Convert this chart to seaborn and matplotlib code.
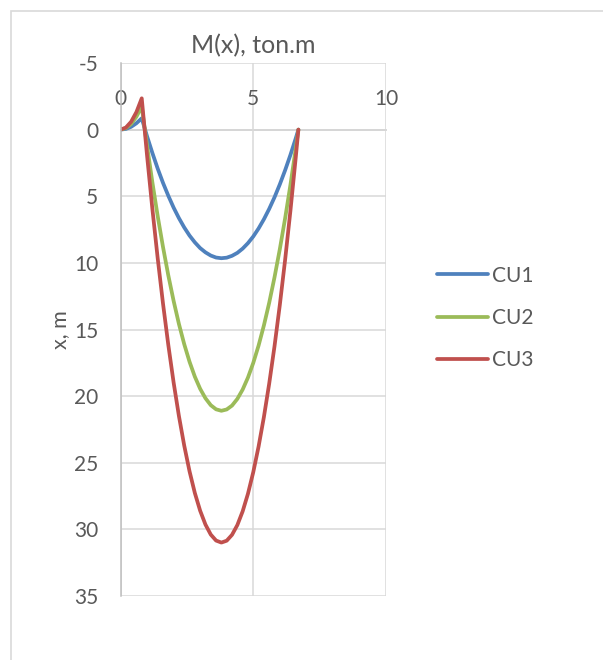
import numpy as np
import pandas as pd
import matplotlib
matplotlib.use("Agg")
import matplotlib.pyplot as plt
from matplotlib.patches import Rectangle
import seaborn as sns

# Position along the beam, m
x_pos = [0.0, 0.2, 0.4, 0.6, 0.8, 1.0, 1.2, 1.4, 1.6, 1.8, 2.0, 2.2, 2.4, 2.6,
         2.8, 3.0, 3.2, 3.4, 3.6, 3.8, 4.0, 4.2, 4.4, 4.6, 4.8, 5.0, 5.2, 5.4,
         5.6, 5.8, 6.0, 6.2, 6.4, 6.6, 6.7]

# Bending moment for each load case, ton.m
m_cu1 = [0.0, -0.05, -0.21, -0.48, -0.85, 0.50, 1.75, 2.92, 3.99, 4.96, 5.85,
         6.64, 7.34, 7.95, 8.46, 8.89, 9.21, 9.45, 9.60, 9.65, 9.61, 9.47, 9.25,
         8.93, 8.52, 8.02, 7.42, 6.73, 5.95, 5.08, 4.11, 3.05, 1.90, 0.66, 0.0]
m_cu2 = [0.0, -0.11, -0.43, -0.97, -1.72, 1.21, 3.95, 6.48, 8.80, 10.93, 12.85,
         14.58, 16.10, 17.42, 18.54, 19.45, 20.16, 20.68, 20.99, 21.10, 21.00,
         20.71, 20.21, 19.51, 18.61, 17.51, 16.21, 14.70, 13.00, 11.09, 8.98,
         6.66, 4.15, 1.43, 0.0]
m_cu3 = [0.0, -0.15, -0.59, -1.32, -2.35, 1.94, 5.94, 9.64, 13.04, 16.15, 18.97,
         21.49, 23.71, 25.64, 27.27, 28.60, 29.64, 30.39, 30.84, 30.99, 30.85,
         30.41, 29.68, 28.65, 27.33, 25.71, 23.79, 21.58, 19.07, 16.27, 13.17,
         9.78, 6.09, 2.10, 0.0]

series_names = ["CU1", "CU2", "CU3"]
series_colors = ["#4F81BD", "#9BBB59", "#C0504D"]

x_ticks = [0, 5, 10]
y_ticks = [-5, 0, 5, 10, 15, 20, 25, 30, 35]

frames = []
for name, vals in zip(series_names, [m_cu1, m_cu2, m_cu3]):
    frames.append(pd.DataFrame({"x": x_pos, "M": vals, "case": name}))
df = pd.concat(frames, ignore_index=True)

sns.set_style("white")
plt.rcParams["font.family"] = ["Lato", "DejaVu Sans"]
text_color = "#595959"
grid_color = "#D9D9D9"

fig = plt.figure(figsize=(6.03, 6.60), dpi=100)
ax = fig.add_axes([120.5 / 603, 1 - 596 / 660, (386 - 120.5) / 603, (596 - 63) / 660])

sns.lineplot(data=df, x="x", y="M", hue="case", palette=series_colors,
             sort=False, estimator=None, units="case", linewidth=2.7,
             ax=ax, legend=True)

ax.set_xlim(0, 10)
ax.set_ylim(35, -5)
ax.set_xticks(x_ticks)
ax.set_yticks(y_ticks)
ax.set_xticklabels([str(t) for t in x_ticks])
ax.set_yticklabels([str(t) for t in y_ticks])

ax.grid(True, color=grid_color, linewidth=1.1)
ax.set_axisbelow(True)

# horizontal axis runs along M = 0, labels sit above it
ax.xaxis.set_ticks_position("top")
ax.xaxis.set_label_position("top")
ax.spines["top"].set_position(("data", 0))
ax.spines["top"].set_color("#BFBFBF")
ax.spines["top"].set_linewidth(1.1)
ax.spines["top"].set_zorder(0.5)
ax.spines["left"].set_color("#BFBFBF")
ax.spines["left"].set_linewidth(1.1)
ax.spines["right"].set_visible(False)
ax.spines["bottom"].set_visible(False)

ax.tick_params(axis="x", length=0, pad=15, labelsize=15, labelcolor=text_color)
ax.tick_params(axis="y", length=0, pad=16, labelsize=15, labelcolor=text_color)

ax.set_xlabel("")
ax.set_ylabel("x, m", fontsize=15.5, color=text_color)
ax.yaxis.set_label_coords((70 - 120.5) / (386 - 120.5), 0.5)
fig.text((120.5 + 386) / 2 / 603, 1 - 45.5 / 660, "M(x), ton.m", ha="center",
         va="center", fontsize=18, color=text_color)

handles, labels = ax.get_legend_handles_labels()
ax.legend(handles, labels, loc="center left", bbox_to_anchor=(418 / 603, 1 - 318 / 660),
          bbox_transform=fig.transFigure, frameon=False, fontsize=15,
          handlelength=2.45, handletextpad=0.2, labelspacing=1.08,
          labelcolor=text_color)

# chart area outline
fig.patches.append(Rectangle((10.5 / 603, -0.1), 1.2, 1 - 11 / 660 + 0.1,
                             transform=fig.transFigure, fill=False,
                             edgecolor=grid_color, linewidth=1.2))

fig.savefig("out.png", dpi=100, facecolor="white")
